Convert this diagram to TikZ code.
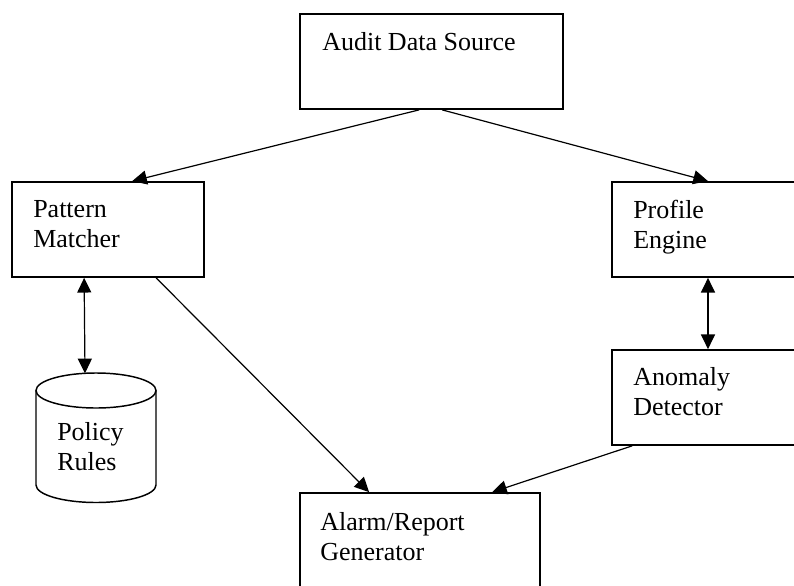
\documentclass[tikz,border=0pt]{standalone}
\usepackage{fontspec}
\setmainfont{Liberation Serif}
\usetikzlibrary{arrows.meta}

\begin{document}
\begin{tikzpicture}[x=0.75pt,y=-0.75pt,
  box/.style={draw,line width=1.3pt,minimum height=71.25pt,inner sep=0pt},
  lbl/.style={anchor=north west,inner sep=0pt,align=left,font=\fontsize{19.5pt}{22.5pt}\selectfont},
  link/.style={line width=0.9pt,-{Triangle[length=11pt,width=10.5pt]}},
  both/.style={line width=0.9pt,{Triangle[length=11pt,width=10.5pt]}-{Triangle[length=11pt,width=10.5pt]}}]
\clip (0,0) rectangle (794,586);
%\draw[step=50,gray,very thin] (0,0) grid (794,586); %helper grid
\node[box,minimum width=197.25pt] (audit) at (431.5,61.5) {};
\node[box,minimum width=144pt] (pattern) at (108,229.5) {};
\node[box,minimum width=144pt] (profile) at (708,229.5) {};
\node[box,minimum width=144pt] (anomaly) at (708,397.5) {};
\node[box,minimum width=180pt] (alarm) at (420,540.5) {};
\node[lbl] (audittxt) at (322,32) {Audit Data Source};
\node[lbl] (patterntxt) at (33,200) {Pattern\\Matcher};
\node[lbl] (profiletxt) at (633,200) {Profile\\Engine};
\node[lbl] (anomalytxt) at (633,367) {Anomaly\\Detector};
\node[lbl] (alarmtxt) at (320,512) {Alarm/Report\\Generator};
% database drum
\draw[line width=1.1pt] (96,390.5) ellipse [x radius=60, y radius=17.5];
\draw[line width=1.1pt] (36,390.5) -- (36,485) arc[start angle=180,end angle=0,x radius=60,y radius=17.5] -- (156,390.5);
\coordinate (policytop) at (85,373.3);
\node[lbl] (policytxt) at (57,422) {Policy\\Rules};
\draw[link] ([shift={(120,0)}]audit.south west) -- ([shift={(121,0)}]pattern.north west);
\draw[link] ([shift={(143,0)}]audit.south west) -- (profile.north);
\draw[both] ([shift={(73,0)}]pattern.south west) -- (policytop);
\draw[both] (profile.south) -- (anomaly.north);
\draw[link] ([shift={(145,0)}]pattern.south west) -- ([shift={(70,0)}]alarm.north west);
\draw[link] ([shift={(21,0)}]anomaly.south west) -- ([shift={(193,0)}]alarm.north west);
\end{tikzpicture}
\end{document}
